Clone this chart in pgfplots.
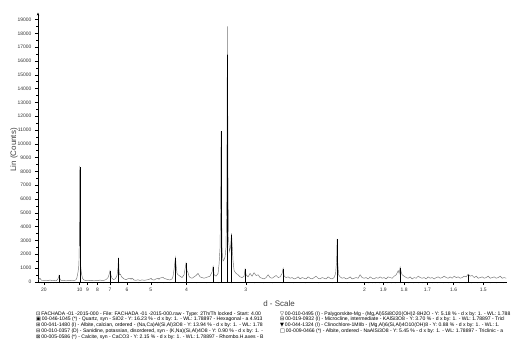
\documentclass[border=0pt]{standalone}
\usepackage{pgfplots}
\pgfplotsset{compat=1.18}
\usepackage{fontspec}
\setmainfont{Liberation Sans}
\newfontfamily\sym{DejaVu Sans}
\usetikzlibrary{arrows.meta}
\begin{document}
\begin{tikzpicture}
\useasboundingbox (0,0) rectangle (513bp,343bp);
\begin{axis}[
  at={(38bp,61.3bp)}, anchor=south west,
  scale only axis, width=469bp, height=269.1bp,
  xmin=4.16, xmax=70, ymin=0, ymax=19500,
  axis lines=left,
  x axis line style={-, line width=0.4pt},
  y axis line style={-{Stealth[length=3pt,width=2.4pt]}, line width=0.4pt},
  tick align=outside,
  major tick length=3bp, minor tick length=1.6bp,
  every tick/.style={black, line width=0.35pt},
  xtick={5,10,11.111,12.5,14.286,16.667,20,25,33.333,50,52.632,55.556,58.824,62.5,66.667},
  xticklabels={20,10,9,8,7,6,5,4,3,2,1.9,1.8,1.7,1.6,1.5},
  minor xtick={4.348,4.545,4.762,5.263,5.556,5.882,6.25,6.667,7.143,7.692,8.333,9.091,
    10.526,11.765,13.333,15.385,18.182,
    20.833,21.739,22.727,23.810,26.316,27.778,29.412,31.25,
    34.483,35.714,37.037,38.462,40,41.667,43.478,45.455,47.619,
    50.505,51.020,51.546,52.083,53.191,53.763,54.348,54.945,56.180,56.818,57.471,58.140,
    59.524,60.241,60.976,61.728,63.291,64.103,64.935,65.789,67.568,68.493,69.444},
  ytick={0,1000,...,19000},
  minor y tick num=1,
  scaled y ticks=false,
  /pgf/number format/assume math mode=true,
  /pgf/number format/1000 sep={},
  tick label style={font=\fontsize{5}{6}\selectfont, color=black!80},
  xlabel={d - Scale},
  ylabel={Lin (Counts)},
  xlabel style={at={(axis description cs:0.514,0)}, anchor=center, yshift=-22.3bp, font=\fontsize{8}{9}\selectfont, color=black!75},
  ylabel style={at={(axis description cs:-0.051,0.49)}, anchor=center, font=\fontsize{8}{9}\selectfont, color=black!75},
]
% measured pattern (x = 100/d, y = counts)
\addplot[black!55, line width=0.45pt, no markers] coordinates {
(4.16,120)(4.30,180)(4.44,250)(4.58,140)(4.72,90)(5.00,80)(5.28,110)(5.56,70)(5.84,120)(6.12,80)
(6.40,100)(6.69,60)(6.90,150)(7.04,300)(7.11,450)(7.18,300)(7.32,120)(7.53,80)(7.81,100)(8.09,60)
(8.37,90)(8.65,70)(8.93,110)(9.21,80)(9.49,130)(9.63,300)(9.78,700)(9.90,1200)(9.97,3000)(10.02,8400)
(10.07,3000)(10.14,1200)(10.26,600)(10.40,250)(10.62,120)(10.90,80)(11.18,110)(11.46,70)(11.74,100)(12.02,60)
(12.30,90)(12.58,70)(12.87,120)(13.15,80)(13.43,100)(13.71,150)(13.99,300)(14.13,500)(14.27,800)(14.41,450)
(14.55,250)(14.76,150)(14.97,200)(15.11,300)(15.25,450)(15.39,1000)(15.46,1750)(15.53,900)(15.60,500)(15.74,550)
(15.88,350)(16.02,300)(16.24,200)(16.52,150)(16.80,220)(17.08,250)(17.22,180)(17.36,260)(17.64,120)(17.92,100)
(18.20,140)(18.48,90)(18.76,130)(19.04,100)(19.33,120)(19.61,150)(19.89,200)(20.03,250)(20.17,150)(20.45,120)
(20.73,200)(21.01,250)(21.15,180)(21.29,260)(21.57,300)(21.71,330)(21.85,250)(22.13,200)(22.42,150)(22.70,130)
(22.98,200)(23.12,400)(23.26,900)(23.40,1500)(23.47,1750)(23.54,1200)(23.68,600)(23.82,500)(24.10,400)(24.38,300)
(24.66,500)(24.80,900)(24.94,1350)(25.08,800)(25.22,650)(25.36,400)(25.51,300)(25.79,250)(26.07,350)(26.35,450)
(26.63,600)(26.91,350)(27.19,300)(27.47,250)(27.75,300)(28.03,350)(28.31,400)(28.60,700)(28.74,1100)(28.88,500)
(29.16,400)(29.44,600)(29.58,1300)(29.72,2500)(29.80,6000)(29.86,10900)(29.93,5000)(30.00,2200)(30.14,1500)(30.28,1600)
(30.42,1800)(30.56,2500)(30.66,6000)(30.75,18500)(30.84,7000)(30.91,3000)(31.05,2200)(31.19,2500)(31.33,3500)(31.40,2800)
(31.54,1500)(31.69,800)(31.97,600)(32.25,500)(32.53,350)(32.81,300)(33.09,400)(33.23,900)(33.37,500)(33.65,350)
(33.93,600)(34.21,400)(34.49,650)(34.78,450)(35.06,500)(35.34,300)(35.62,250)(35.90,200)(36.18,300)(36.46,500)
(36.74,300)(37.02,250)(37.30,350)(37.58,450)(37.87,300)(38.15,350)(38.43,600)(38.57,950)(38.71,400)(38.99,300)
(39.27,350)(39.55,250)(39.83,300)(40.11,200)(40.39,250)(40.67,350)(40.96,200)(41.24,300)(41.52,250)(41.80,200)
(42.08,350)(42.36,250)(42.64,200)(42.92,300)(43.20,400)(43.48,250)(43.76,200)(44.04,300)(44.33,250)(44.61,200)
(44.89,350)(45.17,250)(45.45,200)(45.73,300)(45.94,600)(46.08,1500)(46.15,3100)(46.22,1500)(46.36,500)(46.57,350)
(46.85,250)(47.13,300)(47.42,200)(47.70,250)(47.98,350)(48.26,200)(48.54,250)(48.82,300)(49.10,250)(49.38,500)
(49.66,300)(49.94,250)(50.22,300)(50.51,200)(50.79,350)(51.07,250)(51.35,200)(51.63,300)(51.91,250)(52.19,350)
(52.47,250)(52.75,300)(53.03,200)(53.31,350)(53.60,300)(53.88,250)(54.16,400)(54.44,500)(54.72,800)(54.86,600)
(55.00,1050)(55.14,700)(55.28,500)(55.56,400)(55.84,300)(56.12,250)(56.40,350)(56.69,200)(56.97,300)(57.25,250)
(57.53,400)(57.81,300)(58.09,250)(58.37,300)(58.65,200)(58.93,350)(59.21,250)(59.49,300)(59.78,200)(60.06,300)
(60.34,350)(60.62,250)(60.90,300)(61.18,400)(61.46,300)(61.74,250)(62.02,350)(62.30,250)(62.58,400)(62.87,300)
(63.15,350)(63.43,250)(63.71,300)(63.99,400)(64.27,350)(64.55,550)(64.83,400)(65.11,450)(65.39,300)(65.67,400)
(65.96,250)(66.24,300)(66.52,350)(66.80,250)(67.08,300)(67.36,400)(67.64,250)(67.92,300)(68.20,350)(68.48,250)
(68.76,300)(69.04,400)(69.33,250)(69.61,300)(69.89,250)
};
% phase sticks
\addplot[ycomb, black, line width=0.45pt, no markers] coordinates {
(7.11,450)(10.02,8300)(14.27,800)(15.46,1700)(23.47,1700)(24.94,1350)(28.74,1100)
(29.86,10900)(30.75,16400)(31.33,3400)(33.23,900)(38.57,950)(46.15,3100)(55.00,1000)(64.55,500)
};
\end{axis}
\begin{scope}[every node/.style={anchor=base west, inner sep=0pt, font=\fontsize{5.1}{6}\selectfont}]
\node at (36bp,28.0bp) {{\sym ⊡}\,FACHADA -01 -2015-000 - File: FACHADA -01 -2015-000.raw - Type: 2Th/Th locked - Start: 4.00};
\node at (36bp,22.2bp) {{\sym ▣}\,00-046-1045 (*) - Quartz, syn - SiO2 - Y: 16.23 \% - d x by: 1. - WL: 1.78897 - Hexagonal - a 4.913};
\node at (36bp,16.4bp) {{\sym ⊞}\,00-041-1480 (I) - Albite, calcian, ordered - (Na,Ca)Al(Si,Al)3O8 - Y: 13.94 \% - d x by: 1. - WL: 1.78};
\node at (36bp,10.6bp) {{\sym ⊟}\,00-010-0357 (D) - Sanidine, potassian, disordered, syn - (K,Na)(Si,Al)4O8 - Y: 0.90 \% - d x by: 1. -};
\node at (36bp,4.8bp) {{\sym ⊠}\,00-005-0586 (*) - Calcite, syn - CaCO3 - Y: 2.15 \% - d x by: 1. - WL: 1.78897 - Rhombo.H.axes - B};
\node at (280bp,28.0bp) {{\sym ▽}\,00-010-0495 (I) - Palygorskite-Mg - (Mg,Al)5Si8O20(OH)2·8H2O - Y: 5.18 \% - d x by: 1. - WL: 1.788};
\node at (280bp,22.2bp) {{\sym ⊟}\,00-019-0932 (I) - Microcline, intermediate - KAlSi3O8 - Y: 3.70 \% - d x by: 1. - WL: 1.78897 - Tricl};
\node at (280bp,16.4bp) {{\sym ▼}\,00-044-1324 (I) - Clinochlore-1MIIb - (Mg,Al)6(Si,Al)4O10(OH)8 - Y: 0.88 \% - d x by: 1. - WL: 1.};
\node at (280bp,10.6bp) {{\sym □}\,00-009-0466 (*) - Albite, ordered - NaAlSi3O8 - Y: 5.45 \% - d x by: 1. - WL: 1.78897 - Triclinic - a};
\end{scope}
\end{tikzpicture}
\end{document}
